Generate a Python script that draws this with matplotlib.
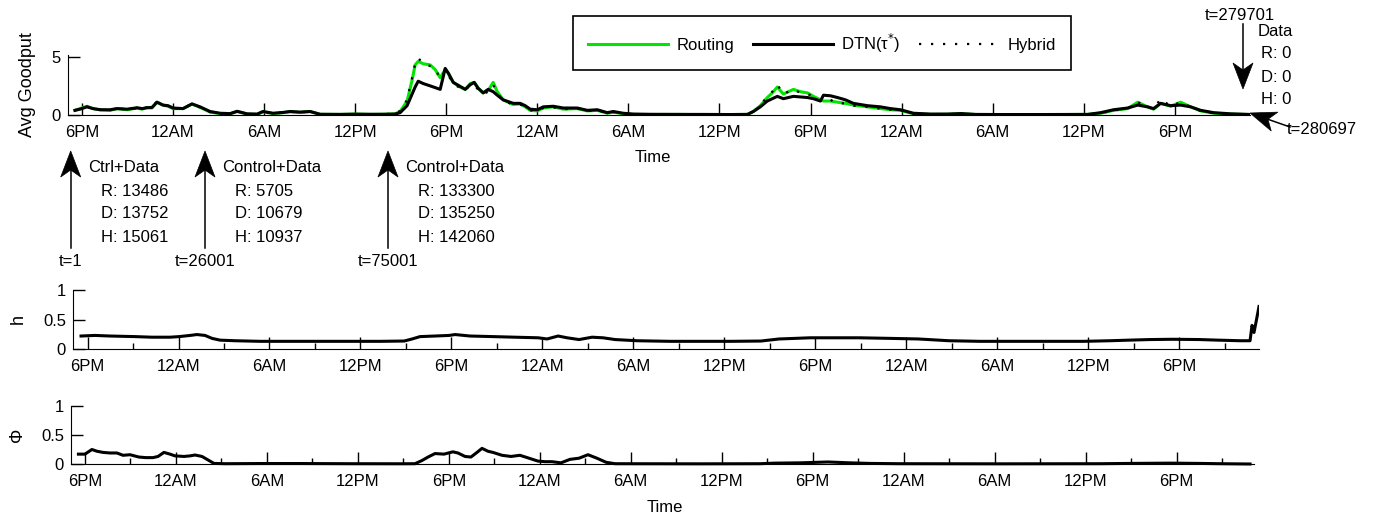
import numpy as np
import matplotlib.pyplot as plt
from matplotlib.lines import Line2D
from matplotlib.patches import Polygon
from matplotlib.transforms import Affine2D

plt.rcParams['font.family'] = ['Liberation Sans', 'DejaVu Sans']
plt.rcParams['font.size'] = 12

W, H = 1380, 518

############# DATA  (time in hours after the first 6PM)

top_t = [-0.46, -0.13, 0.33, 0.73, 1.19, 1.85, 2.31, 2.97, 3.63, 3.96, 4.28, 4.61, 4.94, 5.34,
         5.67, 6.00, 6.66, 7.25, 7.78, 8.44, 9.10, 9.76, 10.22, 10.88, 11.54, 11.93, 12.59,
         13.25, 13.71, 14.37, 15.03, 15.69, 17.01, 18.00, 18.98, 19.97, 20.63, 20.96, 21.42,
         21.75, 21.95, 22.15, 22.48, 22.94, 23.27, 23.60, 23.93, 24.13, 24.46, 24.92, 25.25,
         25.58, 25.84, 26.10, 26.43, 26.76, 27.09, 27.36, 27.75, 28.41, 28.87, 29.20, 29.53,
         30.00, 30.39, 31.05, 31.71, 32.63, 33.29, 33.95, 34.61, 35.00, 35.66, 36.32, 37.44,
         39.42, 40.74, 42.72, 43.84, 44.23, 44.69, 45.15, 45.48, 45.81, 46.21, 46.54, 46.87,
         47.33, 47.79, 48.19, 48.65, 48.85, 49.31, 49.77, 50.30, 50.82, 51.75, 52.60, 53.26,
         53.92, 54.78, 55.90, 57.02, 57.88, 58.87, 60.51, 63.15, 66.25, 67.11, 67.96, 68.89,
         69.55, 70.20, 70.60, 71.06, 71.72, 72.38, 73.04, 73.70, 74.56, 75.68, 76.86]
routing = [0.40, 0.55, 0.75, 0.55, 0.45, 0.40, 0.55, 0.45, 0.60, 0.50, 0.65, 0.60, 1.10, 0.85,
           0.75, 0.55, 0.55, 0.95, 0.65, 0.25, 0.12, 0.10, 0.30, 0.08, 0.05, 0.28, 0.12,
           0.20, 0.28, 0.22, 0.30, 0.06, 0.05, 0.08, 0.05, 0.07, 0.10, 0.30, 1.20,
           3.00, 4.30, 4.60, 4.40, 4.30, 3.90, 3.20, 3.90, 3.60, 2.80, 2.40, 2.20,
           2.70, 2.80, 2.30, 1.90, 2.10, 2.80, 2.00, 1.30, 0.90, 0.95, 0.70, 0.40,
           0.35, 0.60, 0.70, 0.50, 0.55, 0.35, 0.40, 0.15, 0.25, 0.10, 0.05, 0.04,
           0.05, 0.03, 0.04, 0.05, 0.30, 0.80, 1.50, 1.90, 2.40, 1.80, 2.00, 2.20,
           2.00, 1.90, 1.60, 1.30, 1.20, 1.20, 1.10, 1.00, 0.85, 0.70, 0.55, 0.45,
           0.40, 0.10, 0.05, 0.06, 0.12, 0.04, 0.03, 0.03, 0.05, 0.15, 0.40, 0.55,
           1.10, 0.70, 0.50, 1.00, 0.75, 1.10, 0.70, 0.35, 0.15, 0.08, 0.04]
dtn = [0.40, 0.50, 0.70, 0.55, 0.45, 0.45, 0.55, 0.50, 0.62, 0.55, 0.62, 0.65, 1.10, 0.85,
       0.80, 0.60, 0.55, 0.95, 0.70, 0.30, 0.15, 0.12, 0.32, 0.10, 0.08, 0.30, 0.15,
       0.22, 0.30, 0.25, 0.30, 0.06, 0.05, 0.07, 0.06, 0.06, 0.08, 0.20, 0.80,
       1.80, 2.40, 2.90, 2.70, 2.50, 2.35, 2.20, 4.00, 3.60, 2.80, 2.45, 2.20,
       2.60, 2.80, 2.30, 1.90, 2.20, 2.00, 1.70, 1.30, 1.00, 1.00, 0.80, 0.50,
       0.45, 0.70, 0.75, 0.60, 0.60, 0.40, 0.45, 0.20, 0.30, 0.15, 0.08, 0.06,
       0.05, 0.05, 0.04, 0.05, 0.30, 0.70, 1.20, 1.40, 1.60, 1.40, 1.50, 1.60,
       1.55, 1.50, 1.40, 1.20, 1.70, 1.65, 1.50, 1.30, 1.00, 0.80, 0.70, 0.55,
       0.45, 0.15, 0.08, 0.08, 0.12, 0.05, 0.04, 0.04, 0.05, 0.20, 0.45, 0.60,
       0.85, 0.70, 0.55, 1.00, 0.80, 0.85, 0.70, 0.40, 0.20, 0.10, 0.05]
hybrid = [0.40, 0.55, 0.70, 0.55, 0.50, 0.40, 0.60, 0.45, 0.60, 0.50, 0.65, 0.60, 1.20, 0.85,
          0.75, 0.55, 0.60, 0.95, 0.65, 0.25, 0.12, 0.10, 0.30, 0.08, 0.06, 0.28, 0.12,
          0.20, 0.30, 0.22, 0.30, 0.06, 0.05, 0.08, 0.05, 0.07, 0.15, 0.35, 1.30,
          3.20, 4.40, 4.90, 4.40, 4.20, 4.00, 3.10, 3.80, 3.40, 2.70, 2.30, 2.10,
          2.60, 2.50, 2.20, 1.80, 2.00, 2.60, 1.90, 1.20, 0.90, 0.90, 0.70, 0.40,
          0.35, 0.60, 0.65, 0.50, 0.55, 0.35, 0.40, 0.15, 0.25, 0.10, 0.05, 0.04,
          0.05, 0.03, 0.04, 0.05, 0.30, 0.80, 1.60, 2.00, 2.60, 1.80, 2.00, 2.20,
          1.90, 1.80, 1.60, 1.20, 1.20, 1.30, 1.00, 1.00, 0.80, 0.70, 0.55, 0.45,
          0.40, 0.10, 0.05, 0.06, 0.12, 0.04, 0.03, 0.03, 0.05, 0.15, 0.40, 0.55,
          1.10, 0.70, 0.50, 1.40, 0.75, 1.10, 0.70, 0.35, 0.15, 0.08, 0.04]

h_t = [-0.43, 0.49, 1.48, 3.13, 4.25, 5.44, 6.04, 6.76, 7.22, 7.75, 8.21, 8.74, 9.73, 11.38,
       14.02, 16.66, 19.30, 20.88, 21.41, 21.93, 22.92, 23.85, 24.24, 25.23, 26.75, 28.20,
       29.72, 30.31, 31.04, 31.63, 32.42, 33.28, 34.00, 34.80, 36.25, 38.42, 40.40, 42.38,
       44.42, 45.61, 46.67, 47.66, 49.31, 50.89, 52.94, 54.79, 56.83, 58.87, 62.17, 65.73,
       67.44, 68.69, 70.07, 71.59, 73.37, 74.57, 76.02, 76.68, 76.81, 76.94, 77.07, 77.27]
h_val = [0.22, 0.23, 0.22, 0.21, 0.20, 0.20, 0.21, 0.23, 0.245, 0.23, 0.18, 0.15, 0.14, 0.13,
         0.13, 0.13, 0.13, 0.135, 0.17, 0.21, 0.22, 0.23, 0.245, 0.22, 0.21, 0.20,
         0.19, 0.17, 0.22, 0.19, 0.16, 0.20, 0.19, 0.16, 0.14, 0.13, 0.13, 0.13,
         0.135, 0.17, 0.18, 0.19, 0.19, 0.19, 0.18, 0.17, 0.14, 0.13, 0.13, 0.13,
         0.14, 0.15, 0.16, 0.165, 0.16, 0.15, 0.14, 0.14, 0.40, 0.28, 0.45, 0.72]

phi_t = [-0.43, 0.00, 0.46, 0.79, 1.19, 1.65, 2.11, 2.51, 2.97, 3.56, 4.02, 4.49, 4.82, 5.21,
         5.61, 5.94, 6.53, 6.93, 7.26, 7.72, 8.05, 8.51, 9.23, 11.54, 14.18, 17.48, 20.78,
         21.77, 22.23, 22.63, 23.09, 23.68, 24.27, 24.60, 25.07, 25.46, 25.86, 26.19, 26.58,
         26.91, 27.51, 28.10, 28.69, 29.29, 29.88, 30.34, 30.80, 31.40, 31.99, 32.59, 33.18,
         33.77, 34.37, 34.96, 40.57, 44.53, 45.51, 47.16, 49.01, 50.46, 51.78, 53.76, 60.36,
         66.95, 68.93, 71.57, 73.55, 74.87, 76.85]
phi_val = [0.17, 0.17, 0.25, 0.22, 0.20, 0.19, 0.19, 0.15, 0.16, 0.12, 0.11, 0.11, 0.13, 0.20,
           0.17, 0.14, 0.13, 0.14, 0.155, 0.13, 0.08, 0.01, 0.005, 0.008, 0.008, 0.005, 0.004,
           0.005, 0.06, 0.12, 0.18, 0.17, 0.21, 0.19, 0.13, 0.12, 0.20, 0.27, 0.22,
           0.20, 0.15, 0.13, 0.15, 0.10, 0.05, 0.04, 0.04, 0.02, 0.08, 0.10, 0.16,
           0.10, 0.03, 0.005, 0.003, 0.005, 0.015, 0.02, 0.035, 0.02, 0.01, 0.005, 0.003,
           0.005, 0.01, 0.015, 0.01, 0.005, 0.0]

tick_hours = list(range(0, 73, 6))
tick_names = ['6PM', '12AM', '6AM', '12PM'] * 3 + ['6PM']
minor_hours = list(range(3, 76, 6))

# event annotations
ev_labels = ['t=1', 't=26001', 't=75001']
ev_titles = ['Ctrl+Data', 'Control+Data', 'Control+Data']
ev_R = [13486, 5705, 133300]
ev_D = [13752, 10679, 135250]
ev_H = [15061, 10937, 142060]
ev_x = [70.7, 205, 388]          # arrow positions, pixels

############# FIGURE

fig = plt.figure(figsize=(W / 100, H / 100), dpi=100)
pix = Affine2D().scale(1.0 / W, -1.0 / H).translate(0, 1) + fig.transFigure


def axes_px(left, top, right, bottom):
    return fig.add_axes([left / W, 1 - bottom / H, (right - left) / W, (bottom - top) / H])


def style(ax, xlim, ylim, yticks, ylabels, minor=True):
    for s in ['top', 'right']:
        ax.spines[s].set_visible(False)
    ax.set_xlim(xlim)
    ax.set_ylim(ylim)
    ax.set_xticks(tick_hours, tick_names)
    if minor:
        ax.set_xticks(minor_hours, minor=True)
    ax.set_yticks(yticks, ylabels)
    ax.tick_params(which='major', direction='in', length=8.6, width=1, labelsize=12)
    ax.tick_params(which='minor', direction='in', length=4, width=1)
    ax.tick_params(axis='x', pad=7)
    ax.tick_params(axis='y', pad=5)
    ax.patch.set_alpha(0)


def arrow(tail, tip, L=26, hw=10, notch=7):
    tail = np.array(tail, float)
    tip = np.array(tip, float)
    u = (tip - tail) / np.hypot(*(tip - tail))
    p = np.array([-u[1], u[0]])
    back = tip - L * u
    neck = tip - (L - notch) * u
    fig.add_artist(Line2D([tail[0], neck[0]], [tail[1], neck[1]], transform=pix,
                          color='k', lw=1.1))
    fig.add_artist(Polygon([tip, back + hw * p, neck, back - hw * p], closed=True,
                           transform=pix, facecolor='k', edgecolor='k', lw=0.5))


def txt(x, y, s, ha='left'):
    fig.text(x, y, s, transform=pix, ha=ha, va='center', fontsize=12)


# top panel: goodput
ax0 = axes_px(68, 55, 1250, 115)
ax0.plot(top_t, routing, color='#00e600', lw=2.2, label='Routing')
ax0.plot(top_t, dtn, color='k', lw=2.2, label='DTN(τ$^{*}$)')
ax0.plot(top_t, hybrid, color='k', lw=1.6, linestyle=(0, (1, 4.4)), label='Hybrid')
style(ax0, (-0.92, 76.95), (0, 5.15), [0, 5], ['0', '5'], minor=False)
ax0.set_ylabel('Avg Goodput', fontsize=13)
ax0.yaxis.set_label_coords(-0.027, 0.5)

# middle panel: h
ax1 = axes_px(73, 290, 1259, 349)
ax1.plot(h_t, h_val, color='k', lw=2.2)
style(ax1, (-0.96, 77.27), (0, 1), [0, 0.5, 1], ['0', '0.5', '1'])
ax1.set_ylabel('h', fontsize=13)
ax1.yaxis.set_label_coords(-0.039, 0.5)

# bottom panel: Phi
ax2 = axes_px(71, 406, 1254, 464)
ax2.plot(phi_t, phi_val, color='k', lw=2.2, clip_on=False)
style(ax2, (-0.92, 77.11), (0, 1), [0, 0.5, 1], ['0', '0.5', '1'])
ax2.set_ylabel('Φ', fontsize=13)
ax2.yaxis.set_label_coords(-0.038, 0.5)

txt(653, 158, 'Time', ha='center')
txt(665, 508, 'Time', ha='center')

leg = fig.legend(loc='center', bbox_to_anchor=(822 / W, 1 - 43 / H), ncol=3, frameon=True,
                 fancybox=False, edgecolor='k', framealpha=1, handlelength=4.8,
                 handletextpad=0.5, columnspacing=1.1, borderpad=0.95, fontsize=12)
leg.get_frame().set_linewidth(1.2)

# event arrows under the top panel
for x, lab, title, r, d, h in zip(ev_x, ev_labels, ev_titles, ev_R, ev_D, ev_H):
    arrow((x, 248), (x, 151))
    txt(x, 261, lab, ha='center')
    txt(x + 17.5, 168, title)
    txt(x + 30, 191, 'R: %d' % r)
    txt(x + 30, 214, 'D: %d' % d)
    txt(x + 30, 237, 'H: %d' % h)

# end-of-trace annotations
arrow((1243, 24), (1243, 89))
txt(1240, 15, 't=279701', ha='center')
txt(1258, 31, 'Data')
txt(1261, 54, 'R: 0')
txt(1261, 77, 'D: 0')
txt(1261, 100, 'H: 0')
arrow((1290, 127), (1250, 113))
txt(1287, 129, 't=280697')

fig.savefig('out.png', dpi=100)
